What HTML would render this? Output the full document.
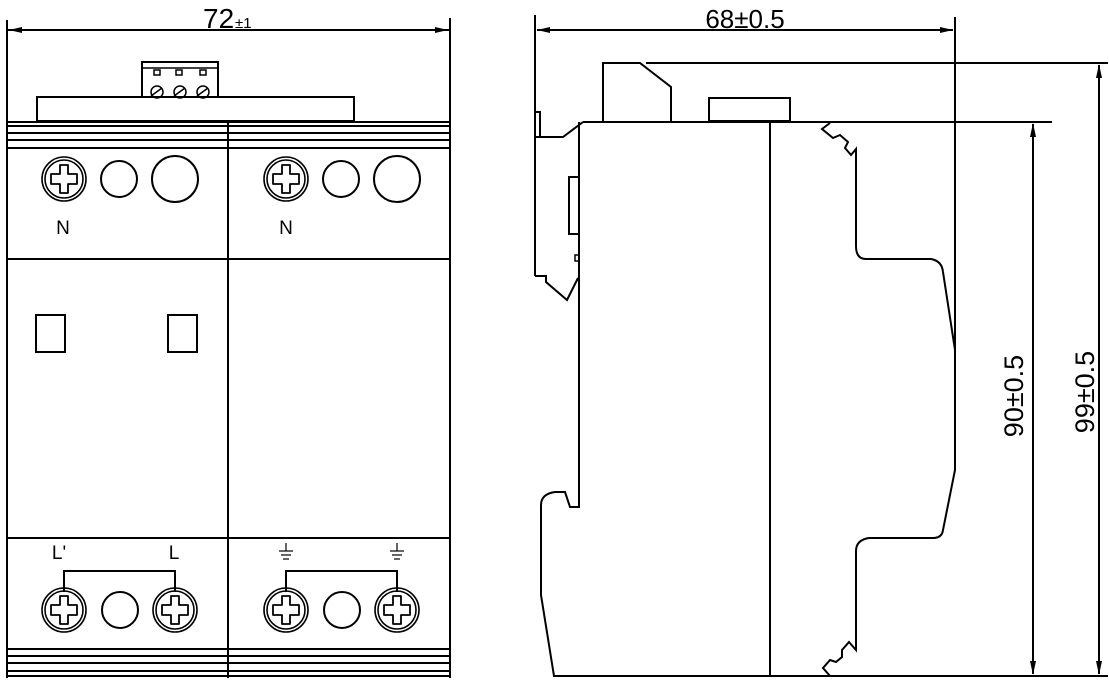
<!DOCTYPE html>
<html><head><meta charset="utf-8"><style>
html,body{margin:0;padding:0;background:#fff;}
svg{display:block;}
text{font-family:"Liberation Sans",sans-serif;fill:#000;}
</style></head><body>
<svg width="1109" height="681" viewBox="0 0 1109 681" xmlns="http://www.w3.org/2000/svg">
<defs>
<g id="scr">
<circle r="22" fill="none" stroke="#000" stroke-width="1.6"/>
<circle r="19" fill="none" stroke="#000" stroke-width="1.6"/>
<path d="M-4,-14 H4 V-5 H13 V5 H4 V14 H-4 V5 H-13 V-5 H-4 Z" fill="none" stroke="#000" stroke-width="1.8" stroke-linejoin="round"/>
</g>
<g id="gnd" stroke="#000" stroke-width="1.2">
<line x1="0" y1="-8" x2="0" y2="0"/><line x1="-7" y1="0" x2="7" y2="0"/><line x1="-5" y1="4" x2="5" y2="4"/><line x1="-3" y1="8" x2="3" y2="8"/>
</g>
</defs>
<g fill="none" stroke="#000" stroke-width="2">
<line x1="7" y1="20" x2="7" y2="678"/>
<line x1="450" y1="18" x2="450" y2="678"/>
<line x1="7" y1="30" x2="450" y2="30"/>
<rect x="142" y="62" width="76" height="35"/>
<line x1="142" y1="68" x2="218" y2="68" stroke-width="1.5"/>
<rect x="154" y="70" width="6" height="5" stroke-width="1.5"/>
<rect x="176" y="70" width="6" height="5" stroke-width="1.5"/>
<rect x="200" y="70" width="6" height="5" stroke-width="1.5"/>
<circle cx="157" cy="92" r="6" stroke-width="1.5"/>
<circle cx="180" cy="92" r="6" stroke-width="1.5"/>
<circle cx="203" cy="92" r="6" stroke-width="1.5"/>
<line x1="151" y1="96" x2="162" y2="88" stroke-width="1.5"/>
<line x1="174" y1="96" x2="185" y2="88" stroke-width="1.5"/>
<line x1="197" y1="96" x2="208" y2="88" stroke-width="1.5"/>
<rect x="37" y="97" width="317" height="24"/>
<line x1="7" y1="122" x2="450" y2="122"/>
<line x1="7" y1="126" x2="450" y2="126"/>
<line x1="7" y1="133" x2="450" y2="133"/>
<line x1="7" y1="140" x2="450" y2="140"/>
<line x1="7" y1="148" x2="450" y2="148"/>
<line x1="228" y1="122" x2="228" y2="678"/>
<circle cx="119" cy="179" r="18"/>
<circle cx="175" cy="179" r="23"/>
<circle cx="341" cy="179" r="18"/>
<circle cx="397" cy="179" r="23"/>
<line x1="7" y1="259" x2="450" y2="259"/>
<rect x="36" y="315" width="29" height="37"/>
<rect x="168" y="315" width="29" height="37"/>
<line x1="7" y1="538" x2="450" y2="538"/>
<polyline points="64,592 64,571 175,571 175,592"/>
<polyline points="286,592 286,571 397,571 397,592"/>
<circle cx="120" cy="610" r="18"/>
<circle cx="342" cy="610" r="18"/>
<line x1="7" y1="649" x2="450" y2="649"/>
<line x1="7" y1="656" x2="450" y2="656"/>
<line x1="7" y1="663" x2="450" y2="663"/>
<line x1="7" y1="671" x2="450" y2="671"/>
<line x1="7" y1="676" x2="450" y2="676"/>

<line x1="535" y1="15" x2="535" y2="276"/>
<line x1="955" y1="17" x2="955" y2="395"/>
<line x1="537" y1="30" x2="953" y2="30"/>
<polyline points="603,121 603,63 640,63 671,87 671,121"/>
<line x1="646" y1="63" x2="1108" y2="63"/>
<rect x="709" y="98" width="81" height="23"/>
<line x1="583" y1="122" x2="1052" y2="122"/>
<polyline points="535,112 540,112 540,137"/>
<polyline points="535,137 563,137 583,122"/>
<rect x="569" y="177" width="10" height="57"/>
<polyline points="535,276 546,276 546,282 567,300 578,278"/>
<rect x="575" y="255" width="4" height="6" stroke-width="1.5"/>
<path d="M579,122 V507 H570 L565,492 H555 Q541,494 541,505 V595 L554,676 H1108"/>
<line x1="770" y1="122" x2="770" y2="676"/>
<path d="M830,123 L822,129 L833,138 L840,135 L848,142 L845,148 L851,155 L856,149 V246 Q856,259 866,259 H931 Q942,261 943,272 L955,350 V470 L943,530 Q942,538 933,538 H869 Q856,540 856,551 V650 L849,642 L842,650 L842,657 L836,662 L830,660 L823,668 L830,676"/>
<line x1="1033" y1="124" x2="1033" y2="674"/>
<line x1="1099" y1="65" x2="1099" y2="674"/>
</g>
<g fill="#000">
<polygon points="9,30 22,27 22,33"/>
<polygon points="448,30 435,27 435,33"/>
<polygon points="537,30 550,27 550,33"/>
<polygon points="953,30 940,27 940,33"/>
<polygon points="1033,123 1030,137 1036,137"/>
<polygon points="1033,675 1030,661 1036,661"/>
<polygon points="1099,64 1096,78 1102,78"/>
<polygon points="1099,675 1096,661 1102,661"/>
</g>
<g>
<use href="#scr" x="64" y="179"/>
<use href="#scr" x="286" y="179"/>
<use href="#scr" x="64" y="610"/>
<use href="#scr" x="175" y="610"/>
<use href="#scr" x="286" y="610"/>
<use href="#scr" x="397" y="610"/>
<use href="#gnd" x="286" y="551"/>
<use href="#gnd" x="397" y="551"/>
</g>
<text x="203" y="28" font-size="28">72</text><text x="235" y="28" font-size="15">±1</text>
<text x="745" y="28" font-size="26" text-anchor="middle">68±0.5</text>
<text x="63" y="234" font-size="19" text-anchor="middle">N</text>
<text x="286" y="234" font-size="19" text-anchor="middle">N</text>
<text x="59" y="559" font-size="19" text-anchor="middle">L'</text>
<text x="174" y="559" font-size="19" text-anchor="middle">L</text>
<text transform="translate(1023,396) rotate(-90)" font-size="27" text-anchor="middle">90±0.5</text>
<text transform="translate(1094,392) rotate(-90)" font-size="27" text-anchor="middle">99±0.5</text>
</svg>
</body></html>
